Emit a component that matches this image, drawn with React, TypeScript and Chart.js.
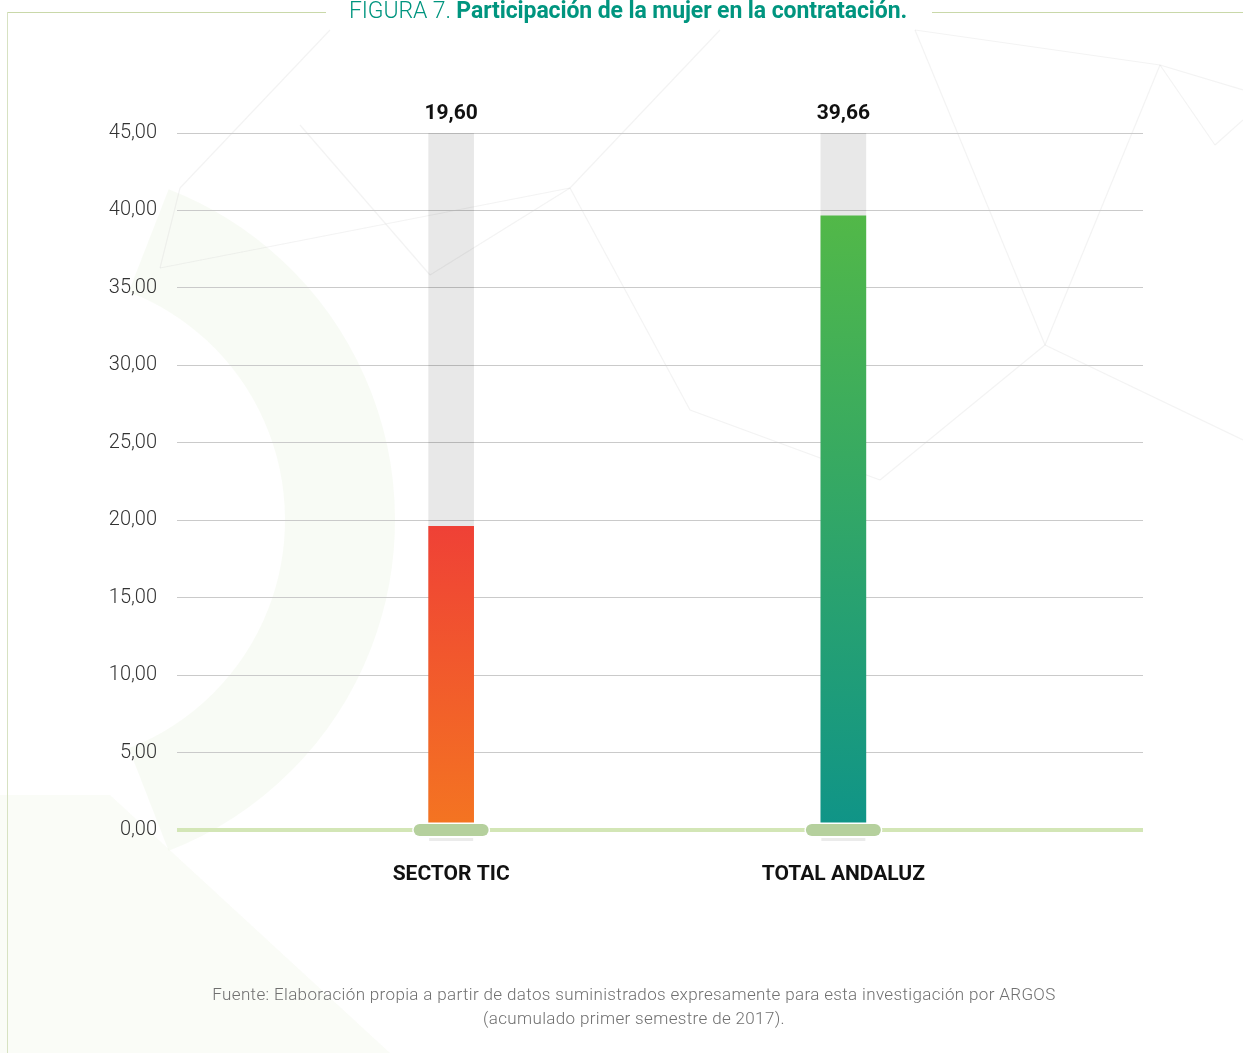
import React, { useEffect, useRef } from 'react';
import { Chart, registerables } from 'chart.js';

Chart.register(...registerables);

const categories = ['SECTOR TIC', 'TOTAL ANDALUZ'];
const values = [19.6, 39.66];
const valueLabels = ['19,60', '39,66'];
const scaleMax = 45;
const backgroundValues = [scaleMax, scaleMax];
const topColors = ['#ef4136', '#52b848'];
const bottomColors = ['#f47521', '#0f9488'];

const titlePrefix = 'FIGURA 7.';
const titleMain = 'Participación de la mujer en la contratación.';
const sourceLine1 = 'Fuente: Elaboración propia a partir de datos suministrados expresamente para esta investigación por ARGOS';
const sourceLine2 = '(acumulado primer semestre de 2017).';

const fmt = (v: number) => v.toFixed(2).replace('.', ',');

const decorPlugin = {
  id: 'decor',
  beforeDraw(chart: any) {
    const ctx = chart.ctx;
    ctx.save();
    ctx.strokeStyle = 'rgba(214,230,190,0.16)';
    ctx.lineWidth = 110;
    ctx.beginPath();
    ctx.arc(40, 520, 300, -1.2, 1.2);
    ctx.stroke();
    ctx.fillStyle = 'rgba(214,230,190,0.13)';
    ctx.beginPath();
    ctx.moveTo(0, 795);
    ctx.lineTo(110, 795);
    ctx.lineTo(390, 1053);
    ctx.lineTo(0, 1053);
    ctx.closePath();
    ctx.fill();
    ctx.strokeStyle = 'rgba(200,200,200,0.22)';
    ctx.lineWidth = 1.2;
    const pts = [
      [180, 188, 330, 30], [180, 188, 160, 268], [160, 268, 570, 188], [570, 188, 720, 30],
      [570, 188, 430, 275], [430, 275, 300, 125], [690, 410, 880, 480], [690, 410, 570, 188],
      [880, 480, 1045, 345], [1045, 345, 1160, 65], [1160, 65, 1243, 90], [1045, 345, 1243, 440],
      [915, 30, 1160, 65], [915, 30, 1045, 345], [1215, 145, 1243, 120], [1160, 65, 1215, 145],
    ];
    pts.forEach(([a, b, c, d]) => {
      ctx.beginPath();
      ctx.moveTo(a, b);
      ctx.lineTo(c, d);
      ctx.stroke();
    });
    ctx.restore();
  },
};

const overlayPlugin = {
  id: 'overlay',
  afterDatasetsDraw(chart: any) {
    const ctx = chart.ctx;
    const meta = chart.getDatasetMeta(0);
    const yScale = chart.scales.y;
    const y0 = yScale.getPixelForValue(0);
    ctx.save();
    meta.data.forEach((el: any, i: number) => {
      const x = el.x;
      ctx.fillStyle = '#ebebeb';
      ctx.fillRect(x - 22, y0 + 8, 44, 3);
      const w = 75, h = 12, r = 6;
      ctx.beginPath();
      ctx.roundRect(x - w / 2, y0 - h / 2, w, h, r);
      ctx.fillStyle = '#b5d09d';
      ctx.strokeStyle = '#ffffff';
      ctx.lineWidth = 3;
      ctx.stroke();
      ctx.fill();
      ctx.fillStyle = '#111111';
      ctx.font = 'bold 21px Roboto';
      ctx.textAlign = 'center';
      ctx.textBaseline = 'alphabetic';
      ctx.fillText(valueLabels[i], x, yScale.getPixelForValue(scaleMax) - 14);
    });
    ctx.restore();
  },
};

function ChartCanvas() {
  const ref = useRef<HTMLCanvasElement | null>(null);
  useEffect(() => {
    if (!ref.current) return;
    const chart = new Chart(ref.current, {
      type: 'bar',
      data: {
        datasets: [
          {
            data: values.map((v, i) => ({ x: i, y: v })),
            backgroundColor: (c: any) => {
              const ch = c.chart;
              const i = c.dataIndex;
              if (!ch.chartArea || i === undefined) return topColors[0];
              const ys = ch.scales.y;
              const g = ch.ctx.createLinearGradient(0, ys.getPixelForValue(values[i]), 0, ys.getPixelForValue(0));
              g.addColorStop(0, topColors[i]);
              g.addColorStop(1, bottomColors[i]);
              return g;
            },
            barThickness: 45,
            grouped: false,
            order: 0,
          },
          {
            data: backgroundValues.map((v, i) => ({ x: i, y: v })),
            backgroundColor: 'rgba(0,0,0,0.09)',
            barThickness: 45,
            grouped: false,
            order: 1,
          },
        ],
      },
      options: {
        responsive: false,
        animation: false,
        layout: { padding: { left: 0, right: 100, top: 133, bottom: 163 } },
        plugins: { legend: { display: false }, tooltip: { enabled: false } },
        scales: {
          x: {
            type: 'linear',
            offset: false,
            min: -0.699,
            max: 1.764,
            afterBuildTicks: (s: any) => {
              s.ticks = categories.map((_, i) => ({ value: i }));
            },
            afterFit: (s: any) => {
              s.height = 60;
            },
            grid: { display: false, drawTicks: false, offset: false },
            border: { display: false },
            ticks: {
              autoSkip: false,
              maxRotation: 0,
              padding: 32,
              color: '#111111',
              font: { family: 'Roboto', size: 21, weight: 'bold' },
              callback: (v: any) => categories[v as number] ?? '',
            },
          },
          y: {
            min: 0,
            max: scaleMax,
            afterFit: (s: any) => {
              s.width = 177;
            },
            grid: {
              drawTicks: false,
              color: (c: any) => (c.tick && c.tick.value === 0 ? '#d3e6b6' : '#cacaca'),
              lineWidth: (c: any) => (c.tick && c.tick.value === 0 ? 4 : 1),
            },
            border: { display: false },
            ticks: {
              stepSize: 5,
              padding: 20,
              color: '#333333',
              font: { family: 'Roboto', size: 20, weight: 300 },
              callback: (v: any) => fmt(Number(v)),
            },
          },
        },
      },
      plugins: [decorPlugin, overlayPlugin],
    } as any);
    return () => chart.destroy();
  }, []);
  return <canvas ref={ref} width={1243} height={1053} style={{ position: 'absolute', left: 0, top: 0 }} />;
}

export default function App() {
  useEffect(() => {
    document.body.style.margin = '0';
  }, []);
  return (
    <div style={{ position: 'relative', width: 1243, height: 1053, overflow: 'hidden', background: '#ffffff', fontFamily: 'Roboto' }}>
      <ChartCanvas />
      <div style={{ position: 'absolute', left: 8, top: 12, width: 318, height: 1, background: '#c9d8a9' }} />
      <div style={{ position: 'absolute', left: 932, top: 12, width: 311, height: 1, background: '#c9d8a9' }} />
      <div style={{ position: 'absolute', left: 7, top: 12, width: 1, height: 1041, background: '#d7e2c2' }} />
      <div
        style={{
          position: 'absolute',
          left: 0,
          width: 1256,
          top: -3,
          textAlign: 'center',
          color: '#00957f',
          fontSize: 23,
          letterSpacing: -0.1,
          whiteSpace: 'nowrap',
          lineHeight: '28px',
        }}
      >
        <span style={{ fontWeight: 300 }}>{titlePrefix} </span>
        <span style={{ fontWeight: 700 }}>{titleMain}</span>
      </div>
      <div
        style={{
          position: 'absolute',
          left: 0,
          width: 1268,
          top: 982,
          textAlign: 'center',
          color: '#707070',
          fontSize: 17,
          fontWeight: 300,
          letterSpacing: 0.35,
          lineHeight: '24px',
        }}
      >
        <div>{sourceLine1}</div>
        <div>{sourceLine2}</div>
      </div>
    </div>
  );
}
